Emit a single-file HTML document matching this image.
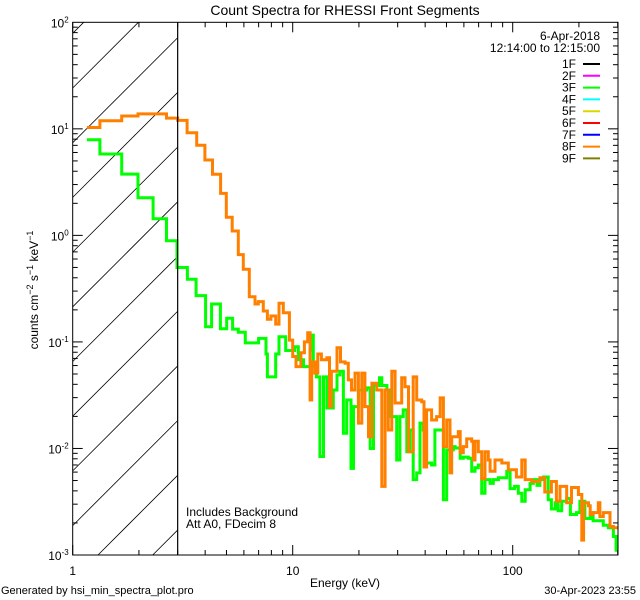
<!DOCTYPE html>
<html><head><meta charset="utf-8"><style>
html,body{margin:0;padding:0;background:#fff;width:640px;height:600px;overflow:hidden;}
svg{display:block;font-family:"Liberation Sans",sans-serif;}
</style></head><body>
<svg id="chart" width="640" height="600" viewBox="0 0 640 600" xmlns="http://www.w3.org/2000/svg" overflow="hidden">
<rect x="0" y="0" width="640" height="600" fill="#fff"/>
<defs><clipPath id="plotclip"><rect x="72.7" y="22.3" width="545.3" height="532.7"/></clipPath></defs>
<g id="hatch"></g>
<g id="series" clip-path="url(#plotclip)"></g>
<g id="axes"></g>
<text x="345" y="15" font-size="14" text-anchor="middle">Count Spectra for RHESSI Front Segments</text>
<text x="345" y="587" font-size="12" text-anchor="middle">Energy (keV)</text>
<text transform="translate(38,290) rotate(-90)" font-size="12" text-anchor="middle">counts cm<tspan baseline-shift="super" font-size="9">−2</tspan> s<tspan baseline-shift="super" font-size="9">−1</tspan> keV<tspan baseline-shift="super" font-size="9">−1</tspan></text>
<text x="186" y="516" font-size="12">Includes Background</text>
<text x="186" y="528" font-size="12">Att A0, FDecim 8</text>
<text x="1" y="594" font-size="11">Generated by hsi_min_spectra_plot.pro</text>
<text x="636" y="594" font-size="11" text-anchor="end">30-Apr-2023 23:55</text>
<text x="600" y="40" font-size="12" text-anchor="end">6-Apr-2018</text>
<text x="600" y="52" font-size="12" text-anchor="end">12:14:00 to 12:15:00</text>
<g id="legend"></g>
</svg>
<script>
const xTickMajor = [1, 10, 100];
const xTickLabels = ["1", "10", "100"];
const yTickExp = [2, 1, 0, -1, -2, -3];
const legendLabels = ["1F","2F","3F","4F","5F","6F","7F","8F","9F"];
const legendColors = ["#000000","#ff00ff","#00ff00","#00ffff","#d8d800","#ff0000","#0000ff","#ff8000","#808000"];
const energyMax = 300;
const orangeE = [1.16,1.33,1.67,1.98,2.67,3.0,3.31,3.66,3.99,4.32,4.70,4.99,5.31,5.66,5.96,6.35,6.74,6.98,7.35,7.67,7.96,8.37,8.66,9.06,9.66,10.0,10.35,10.9,11.3,11.7,12.0,12.2,12.6,13.0,13.5,14.3,14.7,15.0,15.9,16.5,17.3,17.9,18.5,19.2,19.9,20.6,21.3,22.1,22.9,24.1,25.4,26.3,27.2,28.2,29.2,30.2,31.3,32.4,33.6,35.3,36.6,38.6,39.5,40.6,42.8,45.1,46.8,48.4,50.1,51.9,52.8,56.6,57.7,59.6,61.8,65.1,66.2,67.4,69.8,72.3,74.8,77.5,78.9,83.1,89.2,95.5,104,110,114,122,133,140,150,158,164,176,185,199,206,210,221,225,232,245,249,258,277,287];
const orangeV = [10.3,11.9,13.2,13.8,12.6,12.0,9.2,7.0,5.1,3.74,2.48,1.48,1.10,0.66,0.48,0.266,0.227,0.239,0.195,0.163,0.175,0.147,0.231,0.188,0.104,0.073,0.0586,0.079,0.10,0.122,0.0285,0.065,0.051,0.077,0.068,0.071,0.0247,0.053,0.088,0.065,0.063,0.044,0.0354,0.051,0.0173,0.051,0.0247,0.0129,0.041,0.0354,0.0044,0.0354,0.0149,0.053,0.0267,0.0267,0.046,0.038,0.0093,0.047,0.0285,0.0275,0.0067,0.023,0.0185,0.0199,0.0298,0.0104,0.0185,0.0059,0.0129,0.0144,0.0091,0.0104,0.0123,0.0117,0.0078,0.0117,0.0093,0.0052,0.0093,0.0078,0.0061,0.0078,0.0073,0.0063,0.0054,0.0078,0.0051,0.0049,0.0053,0.0039,0.0049,0.0032,0.0044,0.0031,0.0043,0.0037,0.00138,0.0031,0.0029,0.0024,0.0025,0.0031,0.0023,0.0025,0.00185,0.0018];
const greenE = [1.16,1.33,1.67,1.98,2.32,2.67,2.98,3.32,3.64,4.02,4.28,4.69,5.01,5.33,5.66,6.09,7.0,7.56,7.67,8.37,8.66,9.29,10.2,10.6,11.2,12.0,12.3,12.4,12.8,13.3,13.8,14.3,15.3,15.9,16.4,17.0,17.6,18.4,18.9,19.9,21.7,22.5,23.3,24.8,25.4,26.8,27.7,29.7,30.7,31.8,33.0,34.1,35.3,36.6,37.9,39.2,40.6,42.8,44.3,48.4,50.1,53.7,54.7,57.7,59.6,62.8,65.1,67.4,69.8,72.3,74.8,78.9,81.6,86.1,90.6,94.0,97.3,102,106,110,114,120,124,129,133,138,145,150,156,161,167,176,183,195,202,213,225,232,245,258,272,287,295];
const greenV = [7.9,5.8,3.76,2.26,1.43,0.89,0.50,0.388,0.272,0.139,0.227,0.133,0.167,0.132,0.123,0.098,0.108,0.077,0.047,0.077,0.112,0.083,0.090,0.068,0.0586,0.084,0.116,0.0586,0.047,0.0084,0.047,0.024,0.0354,0.049,0.053,0.0139,0.0285,0.0065,0.0247,0.0354,0.037,0.010,0.039,0.046,0.039,0.0354,0.0199,0.0078,0.0199,0.023,0.0093,0.0149,0.0051,0.0059,0.0173,0.0149,0.0073,0.0070,0.0149,0.0033,0.0097,0.0104,0.0101,0.0081,0.0083,0.0081,0.0061,0.0066,0.0070,0.0038,0.0051,0.0047,0.0051,0.0053,0.0053,0.0061,0.0042,0.0044,0.0038,0.0032,0.0041,0.0047,0.0051,0.0045,0.0051,0.0054,0.0033,0.0027,0.0031,0.0026,0.0032,0.0034,0.0024,0.0025,0.0032,0.0022,0.0025,0.0021,0.0021,0.0019,0.0018,0.00149,0.00111];

const NS = "http://www.w3.org/2000/svg";
const X0 = 72.7, X1 = 618, Y0 = 22.3, Y1 = 555;
const xDec = 220, yDec = (Y1 - Y0) / 5;
function xs(e){ return X0 + xDec * Math.log10(e); }
function ys(v){ return Y0 + yDec * (2 - Math.log10(v)); }
function mk(tag, attrs, parent){
  const el = document.createElementNS(NS, tag);
  for (const k in attrs) el.setAttribute(k, attrs[k]);
  parent.appendChild(el);
  return el;
}
const axes = document.getElementById('axes');
const frame = mk('rect', {x:X0, y:Y0, width:X1-X0, height:Y1-Y0, fill:'none', stroke:'#000', 'stroke-width':1}, axes);



// hatch lines (45 degrees), manually clipped to the excluded region
const hatch = document.getElementById('hatch');
const HX = xs(3);
for (let k = -3; k < 12; k++) {
  const c = 142.7 + 54.7 * k; // y at X0; line y = c - (x - X0)
  let xa = X0, ya = c, xb = HX, yb = c - (HX - X0);
  if (ya > Y1) { xa = X0 + (c - Y1); ya = Y1; }
  if (yb < Y0) { xb = X0 + (c - Y0); yb = Y0; }
  if (xa >= xb) continue;
  const ln = mk('line', {x1:xa, y1:ya, x2:xb, y2:yb, stroke:'#000', 'stroke-width':0.8}, hatch);
  
  
}
const cut = mk('line', {x1:HX, y1:Y0, x2:HX, y2:Y1, stroke:'#000', 'stroke-width':1.2}, axes);



for (let d = 0; d < 3; d++) {
  for (let m = 1; m <= 9; m++) {
    const e = m * Math.pow(10, d);
    if (e > energyMax) break;
    const x = xs(e), len = m === 1 ? 10 : 5;
    const t1 = mk('line', {x1:x, y1:Y1, x2:x, y2:Y1-len, stroke:'#000'}, axes);
    
    
    const t2 = mk('line', {x1:x, y1:Y0, x2:x, y2:Y0+len, stroke:'#000'}, axes);
    
    
  }
}
xTickMajor.forEach((e, i) => {
  const t = mk('text', {x:xs(e), y:575, 'font-size':12, 'text-anchor':'middle'}, axes);
  t.textContent = xTickLabels[i];
  
  
});
for (let p = -3; p < 2; p++) {
  for (let m = 1; m <= 9; m++) {
    const y = ys(m * Math.pow(10, p)), len = m === 1 ? 10 : 5;
    const t1 = mk('line', {x1:X0, y1:y, x2:X0+len, y2:y, stroke:'#000'}, axes);
    
    
    const t2 = mk('line', {x1:X1, y1:y, x2:X1-len, y2:y, stroke:'#000'}, axes);
    
    
  }
}
yTickExp.forEach(p => {
  const t = mk('text', {x:X0-4, y:ys(Math.pow(10, p))+5, 'font-size':12, 'text-anchor':'end'}, axes);
  
  
  t.appendChild(document.createTextNode('10'));
  const s = document.createElementNS(NS, 'tspan');
  s.setAttribute('dy', '-5');
  s.setAttribute('font-size', '8');
  s.textContent = String(p);
  t.appendChild(s);
});

function stepPath(E, V){
  let d = '';
  for (let i = 0; i < E.length; i++) {
    const x0 = xs(E[i]), x1 = xs(i + 1 < E.length ? E[i+1] : energyMax), y = ys(V[i]);
    d += (i === 0 ? 'M' : 'L') + x0.toFixed(1) + ',' + y.toFixed(1) + 'L' + x1.toFixed(1) + ',' + y.toFixed(1);
  }
  return d;
}
const series = document.getElementById('series');
const g3 = mk('path', {d:stepPath(greenE, greenV), fill:'none', stroke:'#00ff00', 'stroke-width':3, 'stroke-linejoin':'miter'}, series);


const g8 = mk('path', {d:stepPath(orangeE, orangeV), fill:'none', stroke:'#ff8000', 'stroke-width':3, 'stroke-linejoin':'miter'}, series);



const legend = document.getElementById('legend');
legendLabels.forEach((lab, i) => {
  const y = 64 + i * 11.8;
  const t = mk('text', {x:576, y:y+4, 'font-size':12, 'text-anchor':'end'}, legend);
  t.textContent = lab;
  
  
  const l = mk('line', {x1:583, y1:y, x2:600, y2:y, stroke:legendColors[i], 'stroke-width':2}, legend);
  
  
});
</script>
</body></html>
